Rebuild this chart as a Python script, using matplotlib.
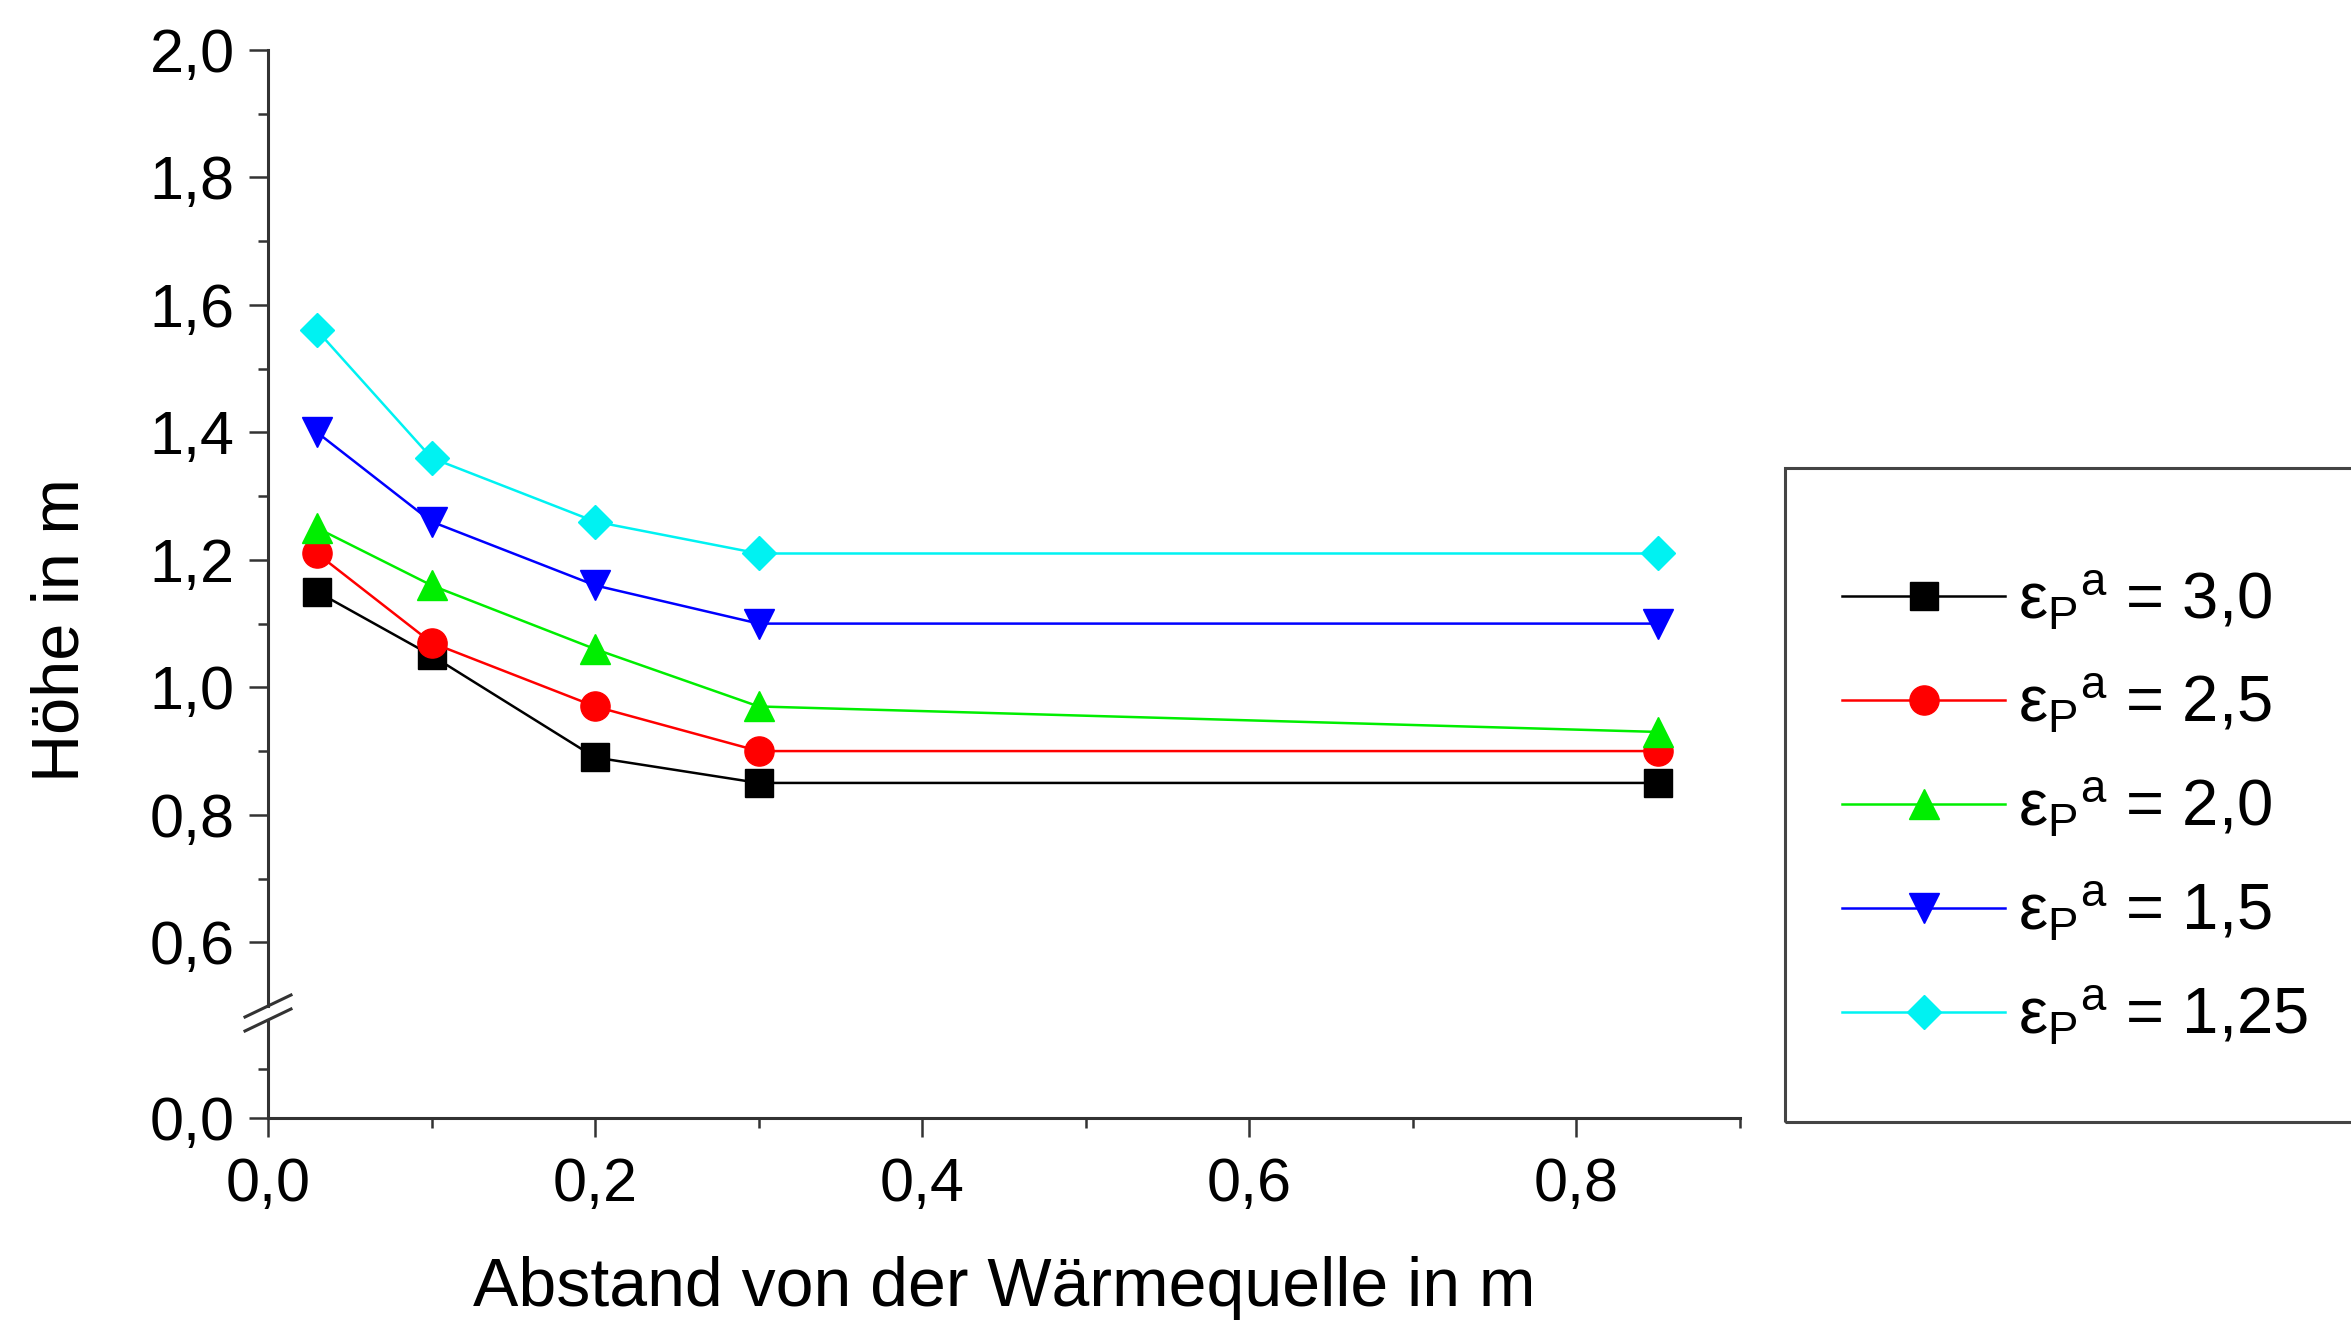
import numpy as np
import matplotlib
matplotlib.use("Agg")
import matplotlib.pyplot as plt
from matplotlib.ticker import FixedLocator, FuncFormatter
from matplotlib.lines import Line2D
from matplotlib.patches import Rectangle

plt.rcParams['font.family'] = ['Liberation Sans', 'DejaVu Sans']
plt.rcParams['mathtext.fontset'] = 'custom'
plt.rcParams['mathtext.rm'] = 'Liberation Sans'
plt.rcParams['mathtext.it'] = 'Liberation Sans:italic'
plt.rcParams['mathtext.bf'] = 'Liberation Sans:bold'

# Abstand von der Wärmequelle in m
abstand = [0.03, 0.10, 0.20, 0.30, 0.85]

# Höhe in m for each epsilon_P^a
hoehe_30 = [1.15, 1.05, 0.89, 0.85, 0.85]
hoehe_25 = [1.21, 1.07, 0.97, 0.90, 0.90]
hoehe_20 = [1.25, 1.16, 1.06, 0.97, 0.93]
hoehe_15 = [1.40, 1.26, 1.16, 1.10, 1.10]
hoehe_125 = [1.56, 1.36, 1.26, 1.21, 1.21]

eps_labels = ['3,0', '2,5', '2,0', '1,5', '1,25']

series = [
    (hoehe_30, 'black', 's', 20),
    (hoehe_25, '#ff0000', 'o', 21),
    (hoehe_20, '#00ee00', '^', 22),
    (hoehe_15, '#0000ff', 'v', 22),
    (hoehe_125, '#00f2f2', 'D', 17),
]

W, H = 2351, 1324
fig = plt.figure(figsize=(W / 100, H / 100), dpi=100)

left, right = 268, 1740
top_px, top_bot_px = 50, 1006
bot_top_px, bot_bot_px = 1020, 1118

ax_top = fig.add_axes([left / W, 1 - top_bot_px / H, (right - left) / W, (top_bot_px - top_px) / H])
ax_bot = fig.add_axes([left / W, 1 - bot_bot_px / H, (right - left) / W, (bot_bot_px - bot_top_px) / H],
                      sharex=ax_top)

handles = []
for (vals, col, mk, ms), lab in zip(series, eps_labels):
    ax_top.plot(abstand, vals, color=col, lw=1.8, marker=mk, ms=ms,
                mfc=col, mec=col, clip_on=False)
    handles.append(Line2D([], [], color=col, lw=1.8, marker=mk, ms=ms, mfc=col, mec=col,
                          label=r'$\mathrm{\varepsilon}_{\mathrm{P}}{}^{\mathrm{a}}$ = ' + lab))

spine_col = '#333333'
fmt = FuncFormatter(lambda v, p: f'{v:.1f}'.replace('.', ','))

ax_top.set_ylim(0.5, 2.0)
ax_bot.set_ylim(0.0, 0.2)
ax_top.set_xlim(0, 0.9)

for ax in (ax_top, ax_bot):
    for s in ('top', 'right'):
        ax.spines[s].set_visible(False)
    for s in ('left', 'bottom'):
        ax.spines[s].set_color(spine_col)
        ax.spines[s].set_linewidth(2.2)
    ax.tick_params(axis='both', which='major', direction='out', length=14, width=1.8,
                   color=spine_col, labelsize=44, pad=10)
    ax.tick_params(axis='both', which='minor', direction='out', length=7, width=1.8,
                   color=spine_col)
    ax.yaxis.set_major_formatter(fmt)

ax_top.spines['bottom'].set_visible(False)
ax_top.tick_params(axis='x', which='both', bottom=False, labelbottom=False)
ax_top.yaxis.set_major_locator(FixedLocator([0.6, 0.8, 1.0, 1.2, 1.4, 1.6, 1.8, 2.0]))
ax_top.yaxis.set_minor_locator(FixedLocator([0.7, 0.9, 1.1, 1.3, 1.5, 1.7, 1.9]))

ax_bot.yaxis.set_major_locator(FixedLocator([0.0]))
ax_bot.yaxis.set_minor_locator(FixedLocator([0.1]))
ax_bot.xaxis.set_major_locator(FixedLocator([0.0, 0.2, 0.4, 0.6, 0.8]))
ax_bot.xaxis.set_minor_locator(FixedLocator([0.1, 0.3, 0.5, 0.7, 0.9]))
ax_bot.xaxis.set_major_formatter(fmt)
ax_bot.tick_params(axis='x', which='major', pad=14)

ax_bot.set_xlabel('Abstand von der Wärmequelle in m', fontsize=49, labelpad=30)
fig.text(62 / W, 1 - 630 / H, 'Höhe in m', rotation=90, fontsize=48,
         ha='center', va='center')

# axis break marks
dx, dy = 23 / W, 11 / H
for ax, edge in ((ax_top, 'y0'), (ax_bot, 'y1')):
    pos = ax.get_position()
    y = getattr(pos, edge)
    fig.add_artist(Line2D([pos.x0 - dx, pos.x0 + dx], [y - dy, y + dy],
                          transform=fig.transFigure, color=spine_col, lw=2.2))

# legend box (cut at the right figure edge)
fig.add_artist(Rectangle((1785 / W, 1 - 1122 / H), 0.3, 654 / H, transform=fig.transFigure,
                         fill=False, edgecolor='#444444', lw=2.2))
fig.legend(handles=handles, loc='center left', bbox_to_anchor=(1842 / W, 1 - 808 / H),
           frameon=False, fontsize=47, handlelength=2.5, handletextpad=0.2,
           labelspacing=0.62, borderpad=0, borderaxespad=0)

fig.savefig('out.png', dpi=100)
